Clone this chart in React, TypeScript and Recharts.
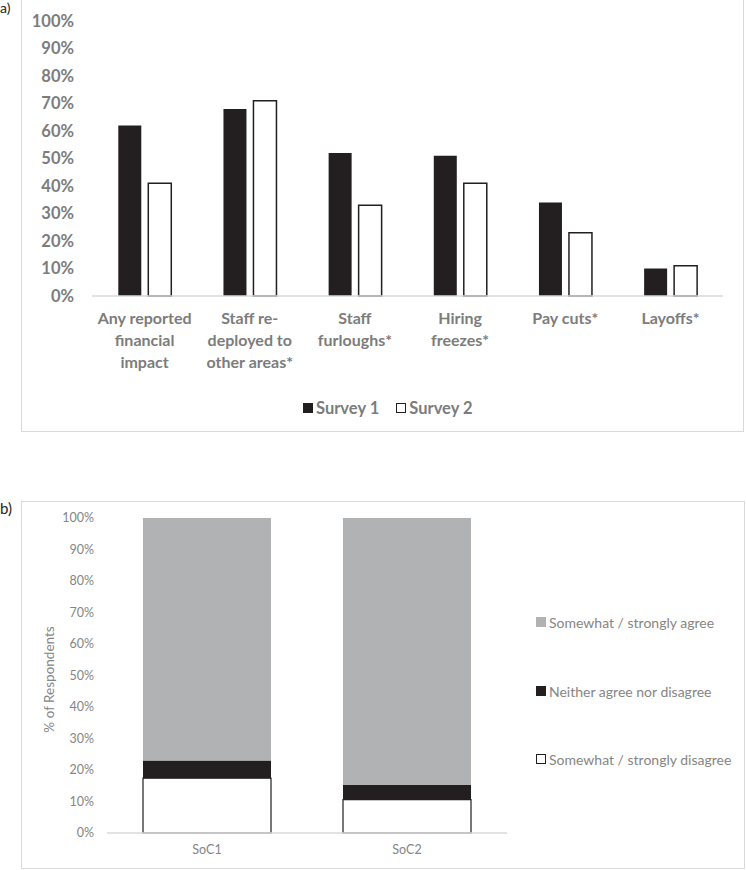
import { BarChart, Bar, XAxis, YAxis } from "recharts";

const FONT = "Lato, 'Open Sans', sans-serif";
const INK = "#231f20";
const AGREE_GREY = "#b1b2b4";
const BOLD_TEXT = "#7c7c7c";
const LIGHT_TEXT = "#858585";
const FRAME = "#d9d9d9";

// panel a) financial impact, % reporting
const impactCategories = [
  "Any reported\nfinancial\nimpact",
  "Staff re-\ndeployed to\nother areas*",
  "Staff\nfurloughs*",
  "Hiring\nfreezes*",
  "Pay cuts*",
  "Layoffs*",
];
const survey1 = [62, 68, 52, 51, 34, 10];
const survey2 = [41, 71, 33, 41, 23, 11];

// panel b) stacked agreement shares
const socCategories = ["SoC1", "SoC2"];
const disagreeShare = [17.4, 10.6];
const neitherShare = [5.6, 4.6];
const agreeShare = [77.0, 84.8];

const percentTicks = [0, 10, 20, 30, 40, 50, 60, 70, 80, 90, 100];

const impactData = impactCategories.map((name, i) => ({
  name,
  s1: survey1[i],
  s2: survey2[i],
}));

const socData = socCategories.map((name, i) => ({
  name,
  disagree: disagreeShare[i],
  neither: neitherShare[i],
  agree: agreeShare[i],
}));

const pct = (v: number) => `${v}%`;

function ImpactTick({ x, y, payload }: any) {
  const lines = String(payload.value).split("\n");
  return (
    <text
      x={x}
      y={y}
      textAnchor="middle"
      fontFamily={FONT}
      fontSize={16}
      fontWeight={700}
      fill={BOLD_TEXT}
    >
      {lines.map((line, i) => (
        <tspan key={i} x={x} dy={i === 0 ? "0.75em" : 22}>
          {line}
        </tspan>
      ))}
    </text>
  );
}

function Swatch({ fill, outline }: { fill: string; outline?: boolean }) {
  return (
    <span
      style={{
        display: "inline-block",
        width: 10,
        height: 10,
        boxSizing: "border-box",
        background: fill,
        border: outline ? `1.5px solid ${INK}` : "none",
        marginRight: 3,
      }}
    />
  );
}

export default function App() {
  return (
    <div
      style={{
        position: "absolute",
        left: 0,
        top: 0,
        width: 746,
        height: 870,
        background: "#fff",
        fontFamily: FONT,
        overflow: "hidden",
      }}
    >
      {/* panel a */}
      <div
        style={{
          position: "absolute",
          left: 21,
          top: -2,
          width: 723,
          height: 434,
          border: `1.5px solid ${FRAME}`,
          boxSizing: "border-box",
        }}
      />
      <div style={{ position: "absolute", left: 0, top: 0, fontSize: 14, lineHeight: "16px", color: "#222" }}>
        a)
      </div>
      <div style={{ position: "absolute", left: 0, top: 0 }}>
        <BarChart
          width={746}
          height={440}
          data={impactData}
          margin={{ top: 21, right: 23, left: 20, bottom: 0 }}
          barCategoryGap="25%"
          barGap={7}
        >
          <XAxis
            dataKey="name"
            height={144}
            interval={0}
            tickLine={false}
            tickSize={0}
            tickMargin={16}
            axisLine={{ stroke: FRAME, strokeWidth: 1.5 }}
            tick={<ImpactTick />}
          />
          <YAxis
            width={72}
            domain={[0, 100]}
            ticks={percentTicks}
            tickFormatter={pct}
            axisLine={false}
            tickLine={false}
            tickSize={0}
            tickMargin={18}
            tick={{ fontFamily: FONT, fontSize: 16.5, fontWeight: 700, fill: BOLD_TEXT }}
          />
          <Bar dataKey="s1" name="Survey 1" fill={INK} isAnimationActive={false} />
          <Bar
            dataKey="s2"
            name="Survey 2"
            fill="#fff"
            stroke={INK}
            strokeWidth={1.5}
            isAnimationActive={false}
          />
        </BarChart>
      </div>
      <div
        style={{
          position: "absolute",
          left: 303,
          top: 397,
          display: "flex",
          alignItems: "center",
          fontSize: 16.5,
          fontWeight: 700,
          color: BOLD_TEXT,
          lineHeight: "22px",
        }}
      >
        <span style={{ display: "inline-flex", alignItems: "center", marginRight: 17 }}>
          <Swatch fill={INK} />
          Survey 1
        </span>
        <span style={{ display: "inline-flex", alignItems: "center" }}>
          <Swatch fill="#fff" outline />
          Survey 2
        </span>
      </div>

      {/* panel b */}
      <div
        style={{
          position: "absolute",
          left: 21,
          top: 501,
          width: 724,
          height: 368,
          border: `1.5px solid ${FRAME}`,
          boxSizing: "border-box",
        }}
      />
      <div style={{ position: "absolute", left: 0, top: 499, fontSize: 15, lineHeight: "18px", color: "#222" }}>
        b)
      </div>
      <div style={{ position: "absolute", left: 0, top: 490 }}>
        <BarChart
          width={746}
          height={380}
          data={socData}
          margin={{ top: 28, right: 239, left: 0, bottom: 7 }}
          barCategoryGap="18%"
        >
          <XAxis
            dataKey="name"
            height={30}
            tickLine={false}
            tickSize={0}
            tickMargin={12}
            axisLine={{ stroke: FRAME, strokeWidth: 1.5 }}
            tick={{ fontFamily: FONT, fontSize: 12.5, fill: LIGHT_TEXT }}
          />
          <YAxis
            width={107}
            domain={[0, 100]}
            ticks={percentTicks}
            tickFormatter={pct}
            axisLine={false}
            tickLine={false}
            tickSize={0}
            tickMargin={13}
            tick={{ fontFamily: FONT, fontSize: 12.5, fill: LIGHT_TEXT }}
            label={{
              content: (props: any) => {
                const vb = props.viewBox || { x: 0, y: 28, height: 315 };
                const cx = vb.x + 49;
                const cy = vb.y + vb.height / 2 + 4;
                return (
                  <text
                    x={cx}
                    y={cy}
                    transform={`rotate(-90 ${cx} ${cy})`}
                    textAnchor="middle"
                    dominantBaseline="central"
                    fontFamily={FONT}
                    fontSize={13.5}
                    fill={LIGHT_TEXT}
                  >
                    % of Respondents
                  </text>
                );
              },
            }}
          />
          <Bar
            dataKey="disagree"
            stackId="soc"
            fill="#fff"
            stroke={INK}
            strokeWidth={1.2}
            isAnimationActive={false}
          />
          <Bar dataKey="neither" stackId="soc" fill={INK} isAnimationActive={false} />
          <Bar dataKey="agree" stackId="soc" fill={AGREE_GREY} isAnimationActive={false} />
        </BarChart>
      </div>
      {[
        { label: "Somewhat / strongly agree", fill: AGREE_GREY, y: 622 },
        { label: "Neither agree nor disagree", fill: INK, y: 691 },
        { label: "Somewhat / strongly disagree", fill: "#fff", y: 759, outline: true },
      ].map((item) => (
        <div
          key={item.label}
          style={{
            position: "absolute",
            left: 536,
            top: item.y - 10,
            height: 20,
            display: "flex",
            alignItems: "center",
            fontSize: 14,
            color: LIGHT_TEXT,
          }}
        >
          <Swatch fill={item.fill} outline={item.outline} />
          {item.label}
        </div>
      ))}
    </div>
  );
}
